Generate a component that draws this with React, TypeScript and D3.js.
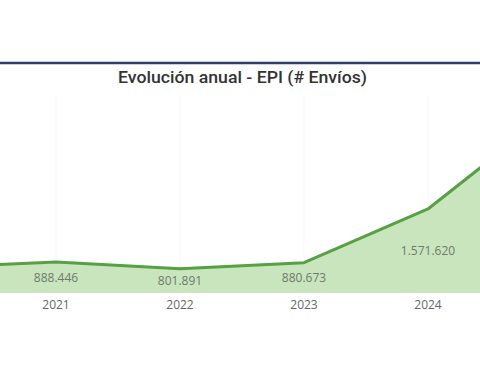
import React from "react";
import * as d3 from "d3";

const years = [2020, 2021, 2022, 2023, 2024, 2025];
const envios = [820000, 888446, 801891, 880673, 1571620, 2830000];
const labelYears = [2021, 2022, 2023, 2024];
const title = "Evolución anual - EPI (# Envíos)";

const W = 480;
const H = 384;
const baseY = 293;
const topY = 98;

const fmt = d3.formatLocale({ decimal: ",", thousands: ".", grouping: [3], currency: ["", "€"] }).format(",d");

export default function App() {
  const x = d3.scaleLinear().domain([2021, 2024]).range([56, 428]);
  const y = d3.scaleLinear().domain([490000, 3000000]).range([baseY, topY]);
  const pts = years.map((yr, i) => ({ yr, v: envios[i] }));
  const area = d3.area<{ yr: number; v: number }>().x((d) => x(d.yr)).y0(baseY).y1((d) => y(d.v));
  const line = d3.line<{ yr: number; v: number }>().x((d) => x(d.yr)).y((d) => y(d.v));

  return (
    <svg width={W} height={H} style={{ position: "absolute", left: 0, top: 0, background: "#fff" }}>
      <rect x={0} y={0} width={W} height={H} fill="#fff" />
      <line x1={0} x2={W} y1={63} y2={63} stroke="#2f3d6b" strokeWidth={2.5} />
      <text
        x={242.5}
        y={83}
        textAnchor="middle"
        fontFamily="Roboto"
        fontWeight={500}
        fontSize={16}
        fill="#333"
        textLength={249}
        lengthAdjust="spacingAndGlyphs"
      >
        {title}
      </text>
      {labelYears.map((yr) => (
        <line key={"g" + yr} x1={x(yr)} x2={x(yr)} y1={95} y2={baseY} stroke="#f7f7f7" strokeWidth={1} />
      ))}
      <path d={area(pts) || ""} fill="#c8e5bd" />
      <path d={line(pts) || ""} fill="none" stroke="#56a142" strokeWidth={3} strokeLinejoin="round" />
      {pts
        .filter((p) => labelYears.includes(p.yr))
        .map((p) => (
          <text
            key={"v" + p.yr}
            x={x(p.yr)}
            y={(y(p.v) + baseY) / 2 + 4}
            textAnchor="middle"
            fontFamily="Open Sans"
            fontSize={12}
            fill="#6f7a6c"
          >
            {fmt(p.v)}
          </text>
        ))}
      {labelYears.map((yr) => (
        <text key={"x" + yr} x={x(yr)} y={308.5} textAnchor="middle" fontFamily="Open Sans" fontSize={12} fill="#666">
          {yr}
        </text>
      ))}
    </svg>
  );
}
